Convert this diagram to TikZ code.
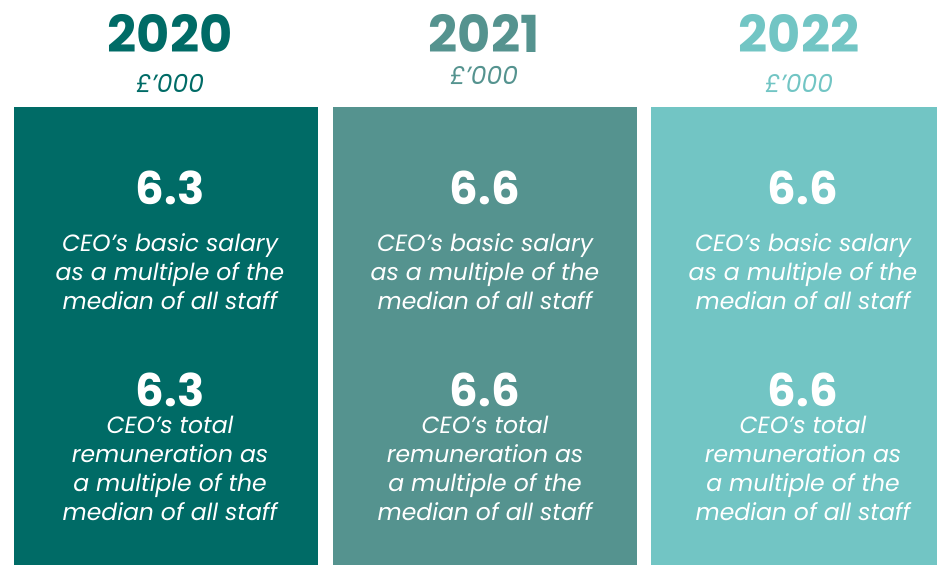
\documentclass[tikz,border=0pt]{standalone}
\usepackage{fontspec}
\setmainfont{Poppins}
\definecolor{cA}{HTML}{006B66}
\definecolor{cB}{HTML}{55938F}
\definecolor{cC}{HTML}{72C5C4}
\begin{document}
\begin{tikzpicture}[x=1pt,y=-1pt,
  year/.style={font=\fontsize{51}{55}\selectfont\bfseries, anchor=base},
  unit/.style={font=\fontsize{25}{29}\selectfont\itshape, anchor=base},
  big/.style={font=\fontsize{45}{48}\selectfont\bfseries, text=white, anchor=base, inner sep=1pt},
  desc/.style={font=\fontsize{23.5}{29}\selectfont\itshape, text=white, align=center, anchor=north, inner sep=0pt}]
\useasboundingbox (0,0) rectangle (937,565);
\fill[cA] (14,107) rectangle (318,565);
\fill[cB] (333,107) rectangle (637,565);
\fill[cC] (651,107) rectangle (937,565);
% headings
\node[year, text=cA] (y1) at (170,52) {2020};
\node[year, text=cB] (y2) at (484,52) {2021};
\node[year, text=cC] (y3) at (799,52) {2022};
\node[unit, text=cA] (u1) at (170,92) {£’000};
\node[unit, text=cB] (u2) at (484,84) {£’000};
\node[unit, text=cC] (u3) at (799,92) {£’000};
% column contents
\foreach \cx/\n/\v in {170/1/6.3, 485/2/6.6, 803/3/6.6} {
  \node[big] (a\n) at (\cx,204) {\v};
  \node[desc] (b\n) at (\cx,233) {CEO’s basic salary\\as a multiple of the\\median of all staff};
  \node[big] (c\n) at (\cx,406) {\v};
  \node[desc] (d\n) at (\cx,416) {CEO’s total\\remuneration as\\a multiple of the\\median of all staff};
}
\end{tikzpicture}
\end{document}
